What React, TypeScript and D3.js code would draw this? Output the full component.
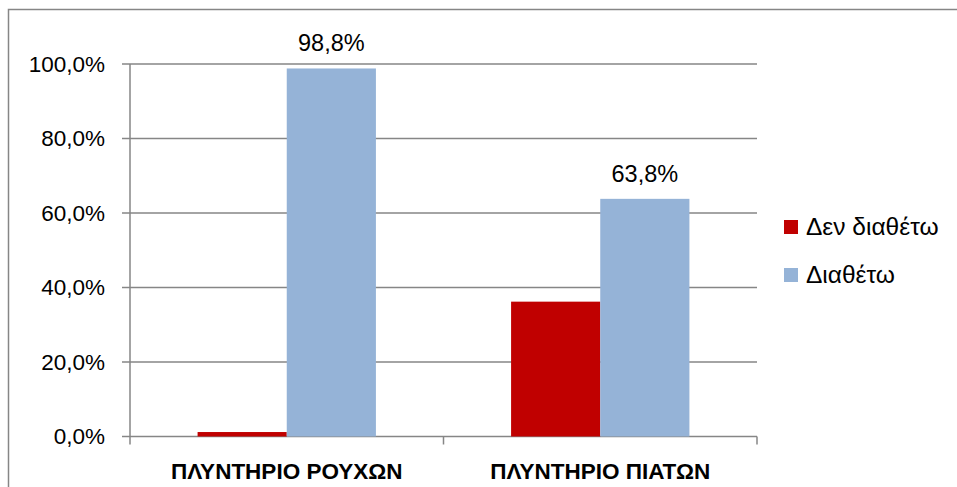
import React from "react";
import * as d3 from "d3";

const categories = ["ΠΛΥΝΤΗΡΙΟ ΡΟΥΧΩΝ", "ΠΛΥΝΤΗΡΙΟ ΠΙΑΤΩΝ"];
const seriesNames = ["Δεν διαθέτω", "Διαθέτω"];
const denDiatheto = [0.012, 0.362];
const diatheto = [0.988, 0.638];
const yTicks = [0, 0.2, 0.4, 0.6, 0.8, 1.0];
const colors = ["#C00000", "#95B3D7"];

const fmt = (v: number) => (v * 100).toFixed(1).replace(".", ",") + "%";

export default function App() {
  const W = 957, H = 487;
  const x0 = 130, x1 = 757, yTop = 64, yBot = 436.5;
  const font = "'Liberation Sans', Arial, sans-serif";
  const y = d3.scaleLinear().domain([0, 1]).range([yBot, yTop]);
  const xBand = d3.scaleBand().domain(categories).range([x0, x1]).paddingInner(0).paddingOuter(0);
  const inner = d3.scaleBand().domain(seriesNames).range([0, xBand.bandwidth()]).paddingOuter(0.758).paddingInner(0);
  const series = [denDiatheto, diatheto];
  const grey = "#868686";
  return (
    <svg width={W} height={H} style={{ position: "absolute", left: 0, top: 0, background: "#fff" }}>
      <rect x={8.5} y={9.5} width={W + 20} height={H + 20} fill="#fff" stroke={grey} strokeWidth={1.5} />
      {yTicks.map((t) => (
        <g key={t}>
          <line x1={x0 - 8} x2={x1} y1={y(t)} y2={y(t)} stroke={grey} strokeWidth={1.5} />
          <text x={105} y={y(t)} dy="0.35em" textAnchor="end" fontFamily={font} fontSize={22.5} fill="#000">
            {fmt(t)}
          </text>
        </g>
      ))}
      <line x1={x0} x2={x0} y1={yTop} y2={yBot} stroke={grey} strokeWidth={1.5} />
      {[0, 1, 2].map((i) => {
        const xx = x0 + i * xBand.bandwidth();
        return <line key={i} x1={xx} x2={xx} y1={yBot} y2={yBot + 8} stroke={grey} strokeWidth={1.5} />;
      })}
      {categories.map((c, ci) => (
        <g key={c}>
          {series.map((s, si) => {
            const bx = (xBand(c) as number) + (inner(seriesNames[si]) as number);
            return (
              <rect key={si} x={bx} y={y(s[ci])} width={inner.bandwidth()} height={yBot - y(s[ci])} fill={colors[si]} />
            );
          })}
          <text
            x={(xBand(c) as number) + (inner(seriesNames[1]) as number) + inner.bandwidth() / 2}
            y={y(diatheto[ci]) - 17}
            textAnchor="middle"
            fontFamily={font}
            fontSize={23.5}
            fill="#000"
          >
            {fmt(diatheto[ci])}
          </text>
          <text
            x={(xBand(c) as number) + xBand.bandwidth() / 2}
            y={479}
            textAnchor="middle"
            fontFamily={font}
            fontSize={22.5}
            fontWeight="bold"
            fill="#000"
          >
            {c}
          </text>
        </g>
      ))}
      {seriesNames.map((n, i) => (
        <g key={n}>
          <rect x={784} y={220 + i * 48} width={14} height={14} fill={colors[i]} />
          <text x={806} y={235 + i * 47.5} fontFamily={font} fontSize={24.5} fill="#000">
            {n}
          </text>
        </g>
      ))}
    </svg>
  );
}
